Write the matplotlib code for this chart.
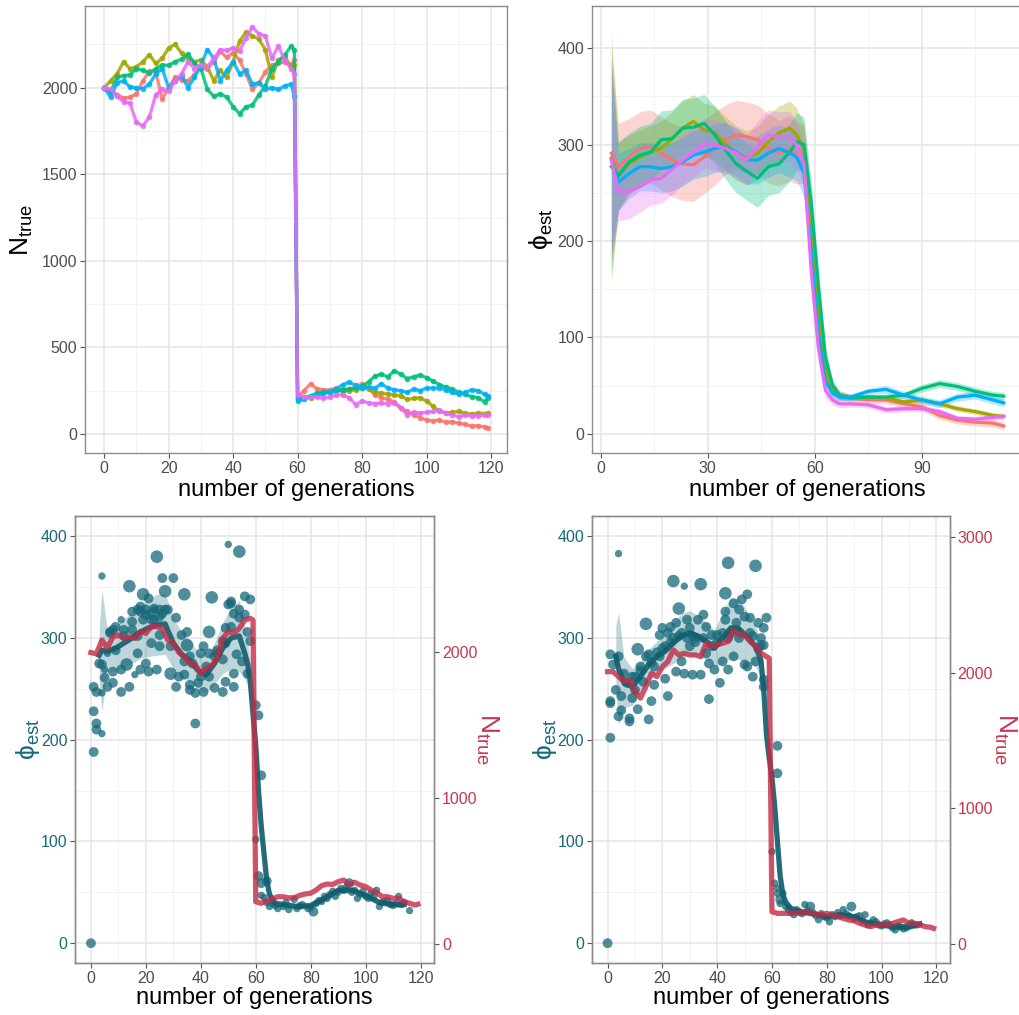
import numpy as np
import matplotlib
matplotlib.use("Agg")
import matplotlib.pyplot as plt

plt.rcParams['font.family'] = ['Liberation Sans', 'DejaVu Sans']
plt.rcParams['mathtext.fontset'] = 'custom'
plt.rcParams['mathtext.rm'] = 'Liberation Sans'
plt.rcParams['mathtext.it'] = 'Liberation Sans:italic'
plt.rcParams['mathtext.bf'] = 'Liberation Sans:bold'
plt.rcParams['mathtext.fallback'] = 'stixsans'

# ---------------- data: top-left, N_true of 5 replicate runs ----------------
gens_true = np.r_[np.arange(0, 59, 2), 59, np.arange(60, 119, 2), 119]

n_red = [2000, 1990, 1960, 1940, 1945, 1965, 2040, 2095, 2090, 1935, 2000, 2060, 2045, 2040, 2075,
         2120, 2110, 2150, 2210, 2175, 2200, 2160, 2080, 1990, 2030, 2090, 2130, 2140, 2150, 2130, 2160,
         215, 250, 290, 260, 255, 255, 265, 240, 260, 270, 290, 265, 225, 210, 200,
         185, 150, 130, 110, 95, 80, 75, 80, 68, 70, 62, 55, 45, 48, 40, 32]
n_olive = [2000, 2040, 2080, 2150, 2110, 2120, 2150, 2190, 2140, 2170, 2230, 2250, 2200, 2170, 2150,
           2160, 2120, 2040, 2100, 2060, 2150, 2270, 2320, 2300, 2280, 2220, 2060, 2160, 2180, 2120, 2130,
           210, 215, 210, 225, 235, 245, 255, 255, 250, 255, 265, 260, 240, 235, 230,
           225, 220, 200, 205, 210, 190, 160, 130, 120, 125, 130, 120, 115, 120, 118, 120]
n_green = [2000, 1975, 2060, 2070, 2075, 2110, 2100, 2085, 2110, 2130, 2130, 2150, 2165, 2195, 2140,
           2110, 1990, 1950, 1965, 1945, 1890, 1850, 1890, 1900, 1960, 2010, 2110, 2150, 2190, 2240, 2220,
           205, 210, 220, 235, 240, 245, 250, 255, 260, 265, 275, 300, 335, 345, 330,
           365, 345, 320, 330, 340, 325, 305, 285, 270, 260, 240, 230, 215, 210, 185, 210]
n_blue = [2000, 1945, 2030, 2040, 2005, 2000, 1995, 2020, 2080, 2110, 2000, 2040, 2070, 2000, 2060,
          2130, 2220, 2170, 2040, 2100, 2150, 2080, 2100, 2020, 2030, 1990, 2000, 1990, 2010, 2020, 1950,
          190, 200, 215, 225, 235, 240, 260, 285, 300, 280, 265, 270, 265, 290, 265,
          255, 250, 240, 260, 250, 265, 265, 265, 255, 240, 230, 240, 255, 250, 230, 220]
n_pink = [2000, 1990, 1950, 1920, 1910, 1800, 1780, 1830, 1960, 1990, 1980, 2040, 2080, 2150, 2110,
          2130, 2120, 2170, 2220, 2215, 2230, 2210, 2290, 2350, 2310, 2300, 2170, 2240, 2160, 2110, 2080,
          225, 215, 215, 215, 205, 215, 225, 225, 210, 170, 190, 180, 175, 180, 175,
          180, 150, 110, 125, 120, 125, 130, 140, 120, 110, 100, 110, 105, 105, 110, 110]

# ---------------- data: top-right, phi_est of the same runs ----------------
gens_est = [3, 5, 8, 11, 14, 17, 20, 23, 26, 29, 32, 35, 38, 41, 44, 47, 50, 53, 55, 57, 59,
            61, 63, 65, 67, 70, 75, 80, 85, 90, 95, 100, 105, 110, 113]

phi_red = [291, 277, 287, 296, 298, 291, 284, 280, 279, 287, 296, 305, 310, 308, 305, 296, 291, 296,
           291, 290, 230, 140, 70, 48, 40, 37, 35, 35, 31, 28, 19, 14, 12, 11, 8]
phi_olive = [286, 267, 280, 287, 292, 296, 306, 317, 324, 315, 312, 301, 291, 286, 291, 303, 312, 317,
             310, 295, 220, 130, 65, 45, 39, 38, 38, 37, 33, 35, 31, 26, 23, 19, 18]
phi_green = [277, 268, 282, 289, 292, 305, 306, 317, 318, 322, 310, 294, 280, 272, 265, 277, 280, 292,
             303, 300, 240, 155, 80, 50, 40, 37, 38, 38, 40, 47, 52, 49, 44, 40, 39]
phi_blue = [284, 261, 270, 277, 277, 275, 277, 282, 289, 292, 296, 298, 292, 284, 284, 291, 296, 291,
            287, 270, 190, 105, 55, 42, 38, 38, 44, 46, 40, 35, 31, 38, 40, 35, 32]
phi_pink = [284, 251, 251, 256, 263, 265, 274, 284, 292, 301, 299, 296, 291, 284, 298, 310, 308, 308,
            299, 280, 170, 90, 45, 35, 31, 31, 30, 25, 26, 26, 23, 16, 15, 17, 18]

# half widths of the confidence bands
se_red = [110, 45, 40, 38, 38, 38, 38, 38, 38, 38, 38, 36, 36, 36, 36, 36, 34, 34, 32, 30, 25,
          18, 10, 6, 5, 4, 4, 4, 4, 4, 4, 4, 4, 4, 4]
se_olive = [130, 35, 30, 28, 28, 28, 28, 28, 28, 28, 28, 28, 28, 28, 28, 28, 28, 28, 28, 26, 22,
            16, 9, 6, 4, 3, 3, 3, 3, 3, 3, 3, 3, 3, 3]
se_green = [110, 35, 30, 30, 30, 30, 30, 30, 30, 30, 30, 30, 30, 30, 30, 30, 30, 30, 30, 28, 24,
            17, 10, 6, 4, 3, 3, 3, 3, 4, 4, 4, 4, 4, 4]
se_blue = [90, 30, 26, 25, 25, 25, 25, 25, 25, 25, 25, 25, 25, 25, 25, 25, 25, 25, 25, 24, 20,
           15, 9, 6, 4, 3, 3, 4, 4, 4, 4, 4, 4, 4, 4]
se_pink = [100, 30, 28, 26, 26, 26, 26, 26, 26, 26, 26, 26, 26, 26, 26, 26, 26, 26, 26, 24, 20,
           14, 8, 5, 4, 3, 3, 3, 3, 3, 3, 3, 3, 3, 3]

# ---------------- data: bottom panels ----------------
gens_smooth = [3, 4, 6, 9, 12, 15, 18, 21, 24, 27, 30, 33, 36, 39, 42, 45, 48, 51, 54, 56,
               57, 58, 59, 60, 61, 62, 63, 64, 65, 67, 70, 75, 80, 85, 90, 95, 100, 105, 110, 114]

# bottom-left run
bl_n_true = [1998, 1990, 2084, 2030, 2107, 2119, 2096, 2105, 2096, 2142, 2130, 2176, 2176, 2165, 2085,
             2062, 2000, 1970, 1925, 1915, 1856, 1890, 1910, 1960, 2096, 2142, 2130, 2164, 2221, 2233, 2220,
             292, 281, 300, 310, 326, 326, 318, 320, 335, 345, 350, 372, 402, 413, 410,
             429, 440, 410, 425, 406, 395, 372, 355, 326, 326, 315, 315, 292, 281, 269, 275]
bl_smooth = [283, 288, 287, 290, 295, 300, 306, 310, 313, 314, 295, 284, 278, 268, 264, 275, 290, 300,
             302, 285, 275, 258, 225, 195, 150, 115, 88, 62, 48, 39, 38, 36, 37, 44, 52, 52, 47, 40, 38, 38]
bl_smooth_se = [25, 60, 20, 22, 24, 25, 26, 28, 30, 30, 25, 22, 20, 18, 18, 20, 25, 30, 35, 25,
                22, 20, 18, 16, 14, 12, 10, 8, 6, 4, 3, 3, 3, 3, 3, 3, 3, 3, 3, 3]
bl_pt_gen = [0, 1, 1, 1, 2, 2, 4, 4, 2, 3,
             4, 4, 5, 6, 5, 6, 7, 8, 8, 8,
             9, 11, 11, 11, 12, 13, 14, 14, 15, 15,
             16, 17, 18, 18, 19, 20, 20, 21, 21, 22,
             22, 23, 23, 24, 24, 25, 25, 26, 27, 27,
             28, 29, 29, 30, 31, 31, 32, 33, 34, 34,
             34, 35, 35, 36, 36, 36, 37, 38, 38, 39,
             40, 40, 41, 41, 42, 43, 43, 44, 45, 45,
             46, 48, 48, 49, 49, 50, 50, 51, 51, 52,
             52, 53, 54, 54, 54, 55, 56, 56, 57, 57,
             58, 58, 60, 61, 62, 60, 61, 62, 64, 62,
             17, 18, 20, 23, 25, 26, 22, 15, 12, 9,
             7, 17, 19, 25, 46, 49, 48, 43, 51, 52,
             65, 66, 68, 70, 72, 74, 75, 77, 79, 81,
             82, 84, 85, 87, 89, 91, 94, 96, 97, 99,
             100, 102, 104, 105, 107, 109, 111, 112, 113, 116,
             67, 71, 76, 80, 83, 86, 88, 90, 92, 93,
             95, 98, 101, 103, 106, 108, 110, 114, 63, 64]
bl_pt_phi = [0, 188, 252, 228, 216, 210, 206, 361, 247, 275,
             274, 246, 261, 252, 269, 285, 306, 308, 256, 267,
             288, 247, 318, 269, 308, 274, 351, 252, 326, 316,
             264, 285, 326, 269, 343, 328, 275, 267, 339, 324,
             295, 318, 328, 380, 269, 328, 292, 359, 346, 328,
             328, 265, 292, 359, 320, 252, 262, 303, 277, 343,
             264, 306, 293, 282, 249, 254, 275, 216, 246, 256,
             285, 262, 247, 292, 272, 306, 262, 340, 282, 251,
             285, 297, 247, 257, 310, 333, 392, 334, 336, 252,
             265, 284, 328, 385, 320, 277, 341, 323, 306, 265,
             338, 297, 234, 224, 165, 102, 66, 59, 61, 47,
             328, 331, 323, 329, 321, 324, 318, 308, 302, 311,
             305, 302, 318, 303, 288, 295, 279, 285, 311, 324,
             36, 39, 34, 36, 33, 43, 34, 38, 34, 31,
             39, 41, 46, 48, 46, 54, 59, 52, 44, 51,
             46, 49, 52, 36, 41, 38, 39, 46, 38, 32,
             37, 40, 37, 35, 42, 44, 51, 50, 52, 55,
             50, 48, 44, 46, 40, 42, 37, 40, 45, 40]
bl_pt_w = [2, 2, 2, 2, 2, 2, 1, 1, 2, 2,
           2, 1, 2, 2, 1, 1, 2, 2, 2, 2,
           2, 2, 1, 2, 2, 3, 3, 2, 2, 2,
           1, 2, 2, 2, 3, 2, 2, 2, 2, 2,
           2, 2, 1, 3, 2, 2, 2, 2, 3, 2,
           2, 3, 2, 2, 2, 2, 2, 2, 2, 3,
           2, 2, 3, 2, 2, 2, 2, 2, 2, 2,
           2, 2, 2, 2, 2, 3, 2, 3, 2, 2,
           2, 2, 2, 2, 2, 2, 1, 2, 2, 2,
           2, 2, 2, 3, 2, 2, 2, 2, 2, 2,
           2, 2, 2, 2, 2, 1, 2, 2, 2, 1,
           2, 2, 2, 2, 2, 2, 2, 2, 2, 2,
           2, 2, 2, 2, 2, 2, 2, 2, 2, 2,
           1, 1, 1, 1, 1, 1, 1, 1, 1, 2,
           1, 1, 1, 1, 1, 1, 2, 1, 1, 1,
           1, 1, 1, 1, 1, 1, 1, 1, 1, 1,
           1, 1, 1, 1, 1, 1, 1, 1, 1, 1,
           1, 1, 1, 1, 1, 1, 1, 1, 1, 1]

# bottom-right run
br_n_true = [2007, 2007, 1970, 1935, 1946, 1860, 1812, 1897, 1995, 1970, 2044, 2081, 2167, 2130, 2143,
             2130, 2130, 2118, 2216, 2192, 2204, 2216, 2229, 2314, 2278, 2278, 2229, 2192, 2143, 2118, 2106,
             238, 226, 226, 226, 230, 226, 238, 230, 221, 214, 226, 214, 202, 189, 177,
             172, 152, 140, 128, 140, 140, 140, 152, 165, 177, 152, 152, 140, 128, 123, 115]
br_smooth = [282, 270, 256, 252, 262, 274, 282, 287, 295, 302, 305, 302, 297, 290, 300, 310, 309, 301,
             292, 278, 250, 205, 182, 163, 135, 100, 66, 48, 40, 34, 31, 29, 26, 28, 26, 20, 18, 16, 16, 19]
br_smooth_se = [30, 55, 25, 18, 15, 15, 15, 17, 20, 22, 22, 20, 18, 18, 25, 30, 30, 25, 20, 18,
                16, 15, 14, 13, 12, 11, 10, 8, 6, 4, 3, 3, 3, 3, 3, 3, 3, 3, 3, 3]
br_pt_gen = [0, 1, 4, 1, 2, 1, 1, 3, 4, 4,
             5, 5, 6, 7, 8, 8, 9, 9, 10, 11,
             11, 12, 13, 14, 14, 15, 15, 16, 17, 17,
             19, 19, 20, 21, 21, 22, 22, 23, 24, 25,
             25, 26, 26, 27, 28, 28, 29, 30, 31, 31,
             32, 33, 34, 34, 35, 36, 36, 37, 37, 38,
             39, 40, 41, 42, 42, 43, 43, 43, 44, 44,
             46, 46, 47, 48, 49, 50, 50, 51, 51, 52,
             53, 53, 54, 54, 55, 56, 56, 57, 57, 57,
             58, 57, 62, 62, 60, 61, 62, 62, 63, 63,
             10, 12, 16, 18, 20, 23, 24, 27, 29, 30,
             32, 35, 38, 40, 45, 47, 48, 52, 55, 44,
             64, 66, 68, 70, 72, 74, 75, 77, 79, 81,
             82, 84, 86, 89, 91, 94, 95, 97, 99, 102,
             105, 107, 109, 111, 113, 67, 71, 73, 76, 78,
             80, 83, 85, 87, 88, 90, 92, 93, 96, 98,
             100, 101, 103, 104, 106, 108, 110, 112, 65, 69]
br_pt_phi = [0, 202, 383, 284, 274, 238, 236, 249, 282, 223,
             229, 243, 265, 256, 221, 218, 241, 262, 249, 230,
             289, 272, 257, 314, 282, 284, 220, 238, 272, 254,
             303, 282, 310, 292, 260, 243, 305, 311, 356, 315,
             267, 302, 329, 277, 351, 265, 318, 292, 302, 264,
             300, 318, 353, 264, 323, 285, 311, 240, 275, 303,
             269, 303, 256, 277, 305, 344, 326, 318, 269, 374,
             334, 282, 308, 328, 338, 321, 274, 343, 272, 320,
             302, 262, 371, 277, 315, 300, 293, 259, 310, 293,
             320, 252, 194, 167, 90, 59, 54, 49, 43, 39,
             262, 268, 276, 286, 290, 296, 300, 305, 300, 310,
             296, 300, 292, 296, 305, 315, 300, 305, 290, 300,
             49, 33, 28, 31, 38, 36, 30, 23, 26, 21,
             28, 30, 33, 36, 26, 28, 18, 23, 18, 20,
             13, 16, 15, 20, 18, 30, 29, 32, 27, 29,
             25, 26, 27, 29, 27, 24, 27, 22, 20, 21,
             17, 19, 18, 15, 17, 14, 17, 18, 36, 33]
br_pt_w = [2, 2, 1, 2, 2, 2, 2, 2, 2, 2,
           2, 2, 2, 2, 2, 2, 2, 2, 2, 2,
           3, 2, 2, 3, 2, 2, 2, 2, 2, 2,
           2, 2, 2, 2, 2, 2, 2, 2, 3, 2,
           2, 2, 3, 2, 1, 2, 2, 2, 2, 2,
           2, 2, 3, 2, 2, 2, 2, 2, 2, 2,
           2, 2, 2, 2, 2, 3, 2, 2, 2, 3,
           2, 2, 2, 2, 2, 2, 2, 2, 2, 2,
           2, 2, 3, 2, 2, 2, 2, 2, 2, 2,
           2, 2, 2, 2, 1, 1, 1, 1, 2, 1,
           2, 2, 2, 2, 2, 2, 2, 2, 2, 2,
           2, 2, 2, 2, 2, 2, 2, 2, 2, 2,
           1, 1, 1, 1, 1, 2, 1, 1, 1, 1,
           1, 1, 1, 2, 1, 1, 1, 1, 1, 1,
           1, 1, 1, 1, 1, 1, 1, 1, 1, 1,
           1, 1, 1, 1, 1, 1, 1, 1, 1, 1,
           1, 1, 1, 1, 1, 1, 1, 1, 1, 1]

# ---------------- styling ----------------
HUE = ['#F8766D', '#A3A500', '#00BF7D', '#00B0F6', '#E76BF3']
TEAL = '#17697A'
TEAL_DARK = '#125D6C'
RED = '#C42B45'
RED_TXT = '#C8364E'
GRID = '#E6E6E6'
GRID_MINOR = '#F0F0F0'
BORDER = '#8C8C8C'
TICK = '#555555'
TXT = '#4D4D4D'
W, H = 1020, 1015
PHI_LABEL = '$\\mathregular{\u03d5_{est}}$'
N_LABEL = r'$\mathregular{N_{true}}$'
SIZE_SCALE = np.array([0, 28, 50, 82])   # point area for weight 1..3


def px_box(left, top, right, bottom):
    return [left / W, (H - bottom) / H, (right - left) / W, (bottom - top) / H]


def style(ax, xmaj, xmin, ymaj, ymin, xlim, ylim):
    ax.set_xticks(xmaj)
    ax.set_xticks(xmin, minor=True)
    ax.set_yticks(ymaj)
    ax.set_yticks(ymin, minor=True)
    # limits after the ticks, otherwise the ticks widen the view
    ax.set_xlim(*xlim)
    ax.set_ylim(*ylim)
    ax.grid(which='major', color=GRID, lw=1.1)
    ax.grid(which='minor', color=GRID_MINOR, lw=0.6)
    ax.set_axisbelow(True)
    ax.tick_params(which='minor', length=0)
    ax.tick_params(which='major', length=3.5, width=0.8, color=TICK,
                   labelcolor=TXT, labelsize=11.5, pad=2)
    for sp in ax.spines.values():
        sp.set_color(BORDER)
        sp.set_linewidth(1.0)


fig = plt.figure(figsize=(W / 100, H / 100), dpi=100)

# ---- top left: N_true ----
ax1 = fig.add_axes(px_box(85, 6, 507, 453))
for vals, c in zip([n_red, n_olive, n_green, n_blue, n_pink], HUE):
    ax1.plot(gens_true, vals, color=c, lw=2.4, alpha=0.85, marker='o', ms=4,
             mec='none', solid_joinstyle='round')
style(ax1, np.arange(0, 121, 20), np.arange(10, 121, 20),
      np.arange(0, 2001, 500), np.arange(250, 2300, 500), (-5.95, 124.95), (-110, 2472))
ax1.set_xlabel('number of generations', fontsize=17, va='center')
ax1.xaxis.set_label_coords(0.5, -0.083)
ax1.set_ylabel(N_LABEL, fontsize=19, va='center')
ax1.yaxis.set_label_coords(-0.149, 0.5)

# ---- top right: phi_est with bands ----
ax2 = fig.add_axes(px_box(591.7, 6, 1023.4, 453.3))
series_est = [(phi_red, se_red), (phi_olive, se_olive), (phi_green, se_green),
              (phi_blue, se_blue), (phi_pink, se_pink)]
for (vals, se), c in zip(series_est, HUE):
    v = np.array(vals)
    s = np.array(se)
    ax2.fill_between(gens_est, v - s, v + s, color=c, alpha=0.3, lw=0)
for (vals, se), c in zip(series_est, HUE):
    ax2.plot(gens_est, vals, color=c, lw=2.3, solid_joinstyle='round')
style(ax2, [0, 30, 60, 90], [15, 45, 75, 105],
      np.arange(0, 401, 100), np.arange(50, 401, 100), (-2.5, 118.5), (-20.3, 443.7))
ax2.set_xlabel('number of generations', fontsize=17, va='center')
ax2.xaxis.set_label_coords(0.499, -0.082)
ax2.set_ylabel(PHI_LABEL, fontsize=19, va='center')
ax2.yaxis.set_label_coords(-0.118, 0.5)


# ---- bottom panels: points + smooth phi (left axis), N_true (right axis) ----
def bottom_panel(box, pt_gen, pt_phi, pt_w, smooth, smooth_se, n_true, n_lim, n_ticks,
                 right_label_x):
    ax = fig.add_axes(px_box(*box))
    ax.scatter(pt_gen, pt_phi, s=SIZE_SCALE[np.array(pt_w)], color=TEAL, alpha=0.75,
               lw=0, zorder=2)
    sm = np.array(smooth)
    se = np.array(smooth_se)
    ax.fill_between(gens_smooth, sm - se, sm + se, color=TEAL, alpha=0.28, lw=0, zorder=3)
    ax.plot(gens_smooth, sm, color=TEAL_DARK, lw=3.8, alpha=0.9, zorder=4,
            solid_joinstyle='round')
    style(ax, np.arange(0, 121, 20), np.arange(10, 121, 20),
          np.arange(0, 401, 100), np.arange(50, 401, 100), (-5.8, 125), (-19.5, 420))
    ax.tick_params(axis='y', labelcolor=TEAL)
    ax.set_xlabel('number of generations', fontsize=17, va='center')
    ax.xaxis.set_label_coords(0.5, -0.078)
    ax.set_ylabel(PHI_LABEL, fontsize=19, va='center', color=TEAL)
    ax.yaxis.set_label_coords(-0.131, 0.5)

    axr = ax.twinx()
    axr.plot(gens_true, n_true, color=RED, lw=3.8, alpha=0.8, solid_joinstyle='round')
    axr.set_yticks(n_ticks)
    axr.set_ylim(*n_lim)
    axr.tick_params(length=3.5, width=0.8, color=TICK, labelcolor=RED_TXT,
                    labelsize=11.5, pad=2)
    for sp in axr.spines.values():
        sp.set_color(BORDER)
        sp.set_linewidth(1.0)
    axr.set_ylabel(N_LABEL, fontsize=19, color=RED_TXT,
                   rotation=270, va='center', ha='center')
    axr.yaxis.set_label_coords(right_label_x, 0.5)
    return ax


bottom_panel((75, 516, 434.3, 963), bl_pt_gen, bl_pt_phi, bl_pt_w, bl_smooth, bl_smooth_se,
             bl_n_true, (-128, 2934), [0, 1000, 2000], 1.147)
bottom_panel((591.7, 516, 950, 963), br_pt_gen, br_pt_phi, br_pt_w, br_smooth, br_smooth_se,
             br_n_true, (-140, 3154), [0, 1000, 2000, 3000], 1.155)

fig.savefig('out.png', dpi=100)
